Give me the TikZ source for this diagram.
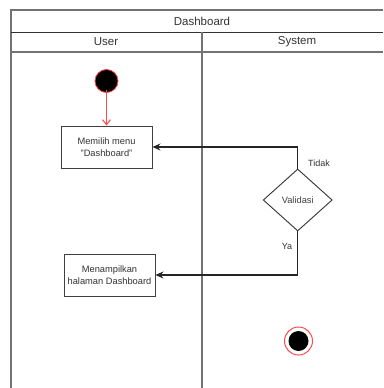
\documentclass[tikz,border=0pt]{standalone}
\usepackage{fontspec}
\setmainfont{Liberation Sans}
\usetikzlibrary{shapes.geometric,arrows.meta}
\begin{document}
\begin{tikzpicture}[x=1pt,y=-1pt,
  frame/.style={draw=black!55,line width=1.1pt},
  sep/.style={draw=black!80,line width=1pt},
  head/.style={font=\fontsize{11.5}{13}\selectfont,text=black!80},
  action/.style={draw=black!75,line width=0.9pt,fill=white,minimum width=91pt,
    minimum height=42pt,inner sep=1pt,align=center,
    font=\fontsize{9.3}{12.3}\selectfont,text=black!80},
  decision/.style={diamond,draw=black!80,line width=0.9pt,minimum width=69pt,
    minimum height=62pt,inner sep=0pt,font=\fontsize{9.3}{11}\selectfont,text=black!75},
  flow/.style={draw=black!85,line width=1.2pt,-{Stealth[length=8pt,width=7pt]}},
  startflow/.style={draw=red!70,line width=1.1pt,-{Straight Barb[length=5pt,width=8pt]}},
  guard/.style={font=\fontsize{9}{11}\selectfont,text=black!80}]
\useasboundingbox (0,0) rectangle (383,388);
\fill[white] (0,0) rectangle (383,388);

% swimlane frame
\draw[frame] (383,10) -- (11,10) -- (11,388);
\draw[sep] (11,32) -- (383,32);
\draw[frame] (11,52) -- (383,52);
\draw[frame] (202,32) -- (202,388);
\node[head] (title) at (202,21) {Dashboard};
\node[head] (laneuser) at (106,42) {User};
\node[head] (lanesys) at (297,42) {System};

% nodes
\node[circle,fill=black,draw=red!75,line width=0.8pt,minimum size=23pt,inner sep=0pt] (start) at (106.5,81) {};
\node[action] (menu) at (106.5,147) {Memilih menu\\"Dashboard"};
\node[decision] (valid) at (297.7,200) {Validasi};
\node[action] (show) at (109.5,275) {Menampilkan\\halaman Dashboard};
\node[circle,draw=red!70,line width=1pt,minimum size=28pt,inner sep=0pt] (end) at (298.5,341) {};
\node[circle,fill=black,minimum size=20pt,inner sep=0pt] (endcore) at (end) {};

% connectors
\draw[startflow] ([yshift=3pt]start.south) -- (menu.north);
\draw[flow] (valid.north) |- (menu.east);
\draw[flow] (valid.south) |- (show.east);
\node[guard] (tidak) at (319,163) {Tidak};
\node[guard] (ya) at (287,246.5) {Ya};
\end{tikzpicture}
\end{document}
